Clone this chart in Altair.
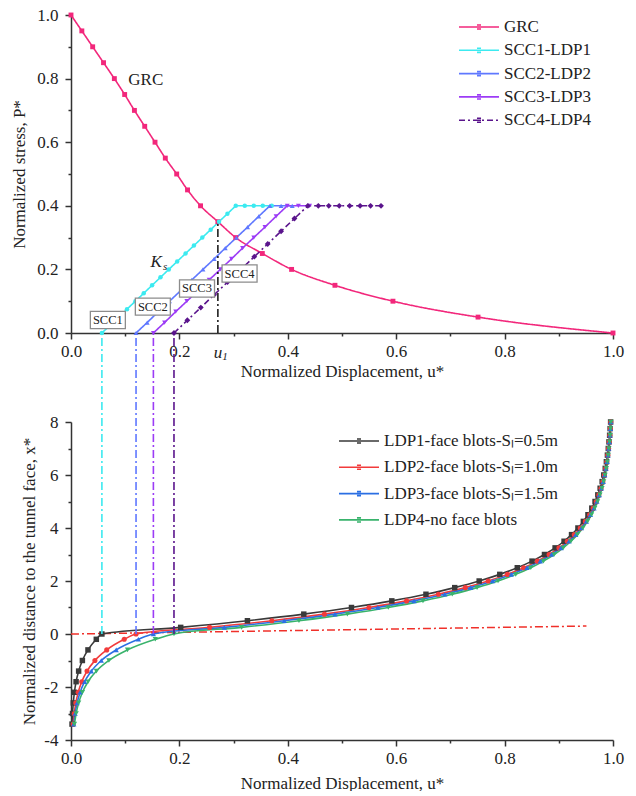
import altair as alt
import pandas as pd

FONT = "'Liberation Serif', 'Times New Roman', serif"
INK = "#222222"

# ---------------- top panel: GRC and support characteristic curves ----------------
top_series = ["GRC", "SCC1-LDP1", "SCC2-LDP2", "SCC3-LDP3", "SCC4-LDP4"]
top_colors = ["#F2277B", "#3CEAF0", "#5F78FF", "#9C3CF6", "#5A148C"]
top_shapes = ["square", "circle", "triangle-up", "triangle-down", "diamond"]
top_sizes = [24, 20, 24, 24, 34]
top_dashes = [[1, 0], [1, 0], [1, 0], [1, 0], [6, 3, 2, 3]]
top_ticks = [0.0, 0.1, 0.2, 0.3, 0.4, 0.5, 0.6, 0.7, 0.8, 0.9, 1.0]

grc_u = [0.0, 0.020, 0.040, 0.060, 0.080, 0.099, 0.117, 0.136, 0.155, 0.174, 0.195,
         0.215, 0.239, 0.271, 0.304, 0.353, 0.407, 0.487, 0.594, 0.751, 1.0]
grc_p = [1.0, 0.95, 0.90, 0.85, 0.80, 0.75, 0.70, 0.65, 0.60, 0.55, 0.50,
         0.45, 0.40, 0.35, 0.30, 0.25, 0.20, 0.15, 0.10, 0.05, 0.0]

scc1_u = [0.057, 0.0724, 0.0879, 0.1033, 0.1188, 0.1342, 0.1496, 0.1651, 0.1805, 0.1959, 0.2114,
          0.2268, 0.2423, 0.2577, 0.2731, 0.2886, 0.3040, 0.3206, 0.3372, 0.3538, 0.3704]
scc1_p = [0.0, 0.025, 0.05, 0.075, 0.1, 0.125, 0.15, 0.175, 0.2, 0.225, 0.25,
          0.275, 0.3, 0.325, 0.35, 0.375, 0.4, 0.4, 0.4, 0.4, 0.4]

scc2_u = [0.120, 0.1406, 0.1612, 0.1817, 0.2023, 0.2229, 0.2435, 0.2641, 0.2846, 0.3052,
          0.3258, 0.3464, 0.3670, 0.3876, 0.4082]
scc2_p = [0.0, 0.033, 0.067, 0.1, 0.133, 0.167, 0.2, 0.233, 0.267, 0.3, 0.333, 0.367, 0.4, 0.4, 0.4]

scc3_u = [0.152, 0.1726, 0.1932, 0.2137, 0.2343, 0.2549, 0.2755, 0.2961, 0.3166, 0.3372,
          0.3578, 0.3784, 0.3990, 0.4196, 0.4402]
scc3_p = [0.0, 0.033, 0.067, 0.1, 0.133, 0.167, 0.2, 0.233, 0.267, 0.3, 0.333, 0.367, 0.4, 0.4, 0.4]

scc4_u = [0.190, 0.2147, 0.2394, 0.2641, 0.2888, 0.3135, 0.3382, 0.3629, 0.3876, 0.4123,
          0.4370, 0.4563, 0.4756, 0.4949, 0.5141, 0.5334, 0.5527, 0.5720]
scc4_p = [0.0, 0.04, 0.08, 0.12, 0.16, 0.2, 0.24, 0.28, 0.32, 0.36, 0.4, 0.4, 0.4, 0.4, 0.4, 0.4, 0.4, 0.4]

u1_u = [0.271]
u1_p = [0.347]

box_labels = ["SCC1", "SCC2", "SCC3", "SCC4"]
box_u = [0.068, 0.151, 0.2325, 0.311]
box_p = [0.041, 0.083, 0.140, 0.187]

# ---------------- bottom panel: longitudinal displacement profiles ----------------
bot_series = ["LDP1-face blots-S\u2097=0.5m", "LDP2-face blots-S\u2097=1.0m",
              "LDP3-face blots-S\u2097=1.5m", "LDP4-no face blots"]
bot_colors = ["#3A3A3A", "#F23B3B", "#2B6FE3", "#39B36C"]
bot_shapes = ["square", "circle", "triangle-up", "triangle-down"]
bot_sizes = [30, 26, 28, 28]
ldp_ticks = [-4, -3, -2, -1, 0, 1, 2, 3, 4, 5, 6, 7, 8]

ldp_x = [-3.4, -3.0, -2.6, -2.2, -1.8, -1.4, -1.0, -0.6, -0.2, 0.0,
         0.25, 0.5, 0.75, 1.0, 1.25, 1.5, 1.75, 2.0, 2.25, 2.5, 2.75, 3.0,
         3.25, 3.5, 3.75, 4.0, 4.25, 4.5, 4.75, 5.0, 5.25, 5.5, 5.75, 6.0,
         6.25, 6.5, 6.75, 7.0, 7.25, 7.5, 7.75, 8.0]
ldp1_u = [0.0019, 0.0028, 0.0042, 0.0063, 0.0094, 0.0141, 0.0210, 0.0313, 0.0467, 0.057,
          0.2024, 0.3255, 0.4295, 0.5175, 0.5919, 0.6549, 0.7080, 0.7531, 0.7911, 0.8234,
          0.8506, 0.8736, 0.8932, 0.9097, 0.9235, 0.9353, 0.9453, 0.9538, 0.9609, 0.9669,
          0.9720, 0.9763, 0.9800, 0.9830, 0.9857, 0.9878, 0.9897, 0.9913, 0.9926, 0.9938,
          0.9947, 0.9956]
ldp2_u = [0.0040, 0.0060, 0.0089, 0.0133, 0.0198, 0.0296, 0.0441, 0.0659, 0.0982, 0.120,
          0.2557, 0.3705, 0.4676, 0.5497, 0.6191, 0.6779, 0.7276, 0.7696, 0.8051, 0.8352,
          0.8606, 0.8821, 0.9003, 0.9157, 0.9286, 0.9396, 0.9490, 0.9569, 0.9635, 0.9691,
          0.9739, 0.9779, 0.9813, 0.9842, 0.9866, 0.9886, 0.9904, 0.9919, 0.9931, 0.9942,
          0.9951, 0.9959]
ldp3_u = [0.0051, 0.0076, 0.0113, 0.0168, 0.0251, 0.0375, 0.0559, 0.0834, 0.1244, 0.152,
          0.2828, 0.3934, 0.4870, 0.5661, 0.6330, 0.6896, 0.7375, 0.7780, 0.8122, 0.8412,
          0.8657, 0.8864, 0.9039, 0.9188, 0.9312, 0.9418, 0.9508, 0.9584, 0.9648, 0.9702,
          0.9748, 0.9787, 0.9820, 0.9847, 0.9871, 0.9891, 0.9908, 0.9922, 0.9934, 0.9944,
          0.9953, 0.9960]
ldp4_u = [0.0063, 0.0095, 0.0141, 0.0211, 0.0314, 0.0469, 0.0699, 0.1043, 0.1556, 0.190,
          0.3149, 0.4206, 0.5099, 0.5855, 0.6494, 0.7035, 0.7492, 0.7879, 0.8206, 0.8483,
          0.8717, 0.8915, 0.9082, 0.9224, 0.9343, 0.9444, 0.9530, 0.9603, 0.9664, 0.9716,
          0.9759, 0.9797, 0.9828, 0.9854, 0.9877, 0.9896, 0.9912, 0.9925, 0.9937, 0.9947,
          0.9955, 0.9962]

face_u = [0.0, 0.951]
face_x = [0.0, 0.30]

link_u = [0.057, 0.120, 0.152, 0.190]
link_colors = ["#3CEAF0", "#5F78FF", "#9C3CF6", "#5A148C"]

# ---------------- layout constants ----------------
W, H = 542, 318
GAP = 89
LINK_TOP = 8 + GAP * 12.0 / H   # top of the gap, in bottom-panel units

LEG_PATH = ("M-2.667,0L2.667,0M-0.27,-0.27L0.27,-0.27M-0.27,0L0.27,0"
            "M-0.27,0.27L0.27,0.27")
BOX_PATH = "M-1,-0.49L1,-0.49L1,0.49L-1,0.49Z"
DASHDOT = [8, 3, 2, 3]


def long_df(names, us, ys):
    rows = []
    for n, u, y in zip(names, us, ys):
        for a, b in zip(u, y):
            rows.append({"series": n, "u": a, "v": b})
    return pd.DataFrame(rows)


top_df = long_df(top_series, [grc_u, scc1_u, scc2_u, scc3_u, scc4_u],
                 [grc_p, scc1_p, scc2_p, scc3_p, scc4_p])
bot_df = long_df(bot_series, [ldp1_u, ldp2_u, ldp3_u, ldp4_u], [ldp_x] * 4)

tenth_major = "round(datum.value * 10) % 2 === 0"
frac_labels = f"{tenth_major} ? format(datum.value, '.1f') : ''"
tick_cond = {"condition": {"test": tenth_major, "value": 6}, "value": 3}
int_major = "datum.value % 2 === 0"
int_labels = f"{int_major} ? '' + datum.value : ''"
int_tick_cond = {"condition": {"test": int_major, "value": 6}, "value": 3}


def frac_axis(title, lp, tp):
    return alt.Axis(values=top_ticks, labelExpr=frac_labels, tickSize=tick_cond,
                    title=title, labelPadding=lp, titlePadding=tp,
                    labelFlush=False, labelOverlap=False)


top_x = alt.X("u:Q", scale=alt.Scale(domain=[0, 1], nice=False, zero=False),
              axis=frac_axis("Normalized Displacement, u*", 4, 4))
top_y = alt.Y("v:Q", scale=alt.Scale(domain=[0, 1], nice=False),
              axis=frac_axis("Normalized stress, P*", 7, 8))

top_legend = alt.Legend(title=None, orient="none", legendX=388, legendY=3.5, padding=0,
                        symbolType=LEG_PATH, symbolSize=225, symbolStrokeWidth=1.6,
                        symbolOffset=11.5, labelOffset=16.5, rowPadding=5.3,
                        labelLimit=400)
top_color = alt.Color("series:N", scale=alt.Scale(domain=top_series, range=top_colors),
                      legend=top_legend)
top_dash = alt.StrokeDash("series:N", scale=alt.Scale(domain=top_series, range=top_dashes),
                          legend=top_legend)

grc_line = alt.Chart(top_df).transform_filter(alt.datum.series == "GRC").mark_line(
    strokeWidth=1.6, interpolate="monotone").encode(x=top_x, y=top_y, color=top_color,
                                                    strokeDash=top_dash)
scc_line = alt.Chart(top_df).transform_filter(alt.datum.series != "GRC").mark_line(
    strokeWidth=1.6).encode(x=top_x, y=top_y, color=top_color, strokeDash=top_dash)

top_points = []
for s, c, sh, sz in zip(top_series, top_colors, top_shapes, top_sizes):
    top_points.append(
        alt.Chart(top_df).transform_filter(alt.datum.series == s).mark_point(
            filled=True, shape=sh, size=sz, color=c, opacity=1).encode(x=top_x, y=top_y))

u1_df = pd.DataFrame({"u": u1_u, "v": [0.0], "v2": u1_p})
u1_rule = alt.Chart(u1_df).mark_rule(color="#111111", strokeWidth=1.5,
                                     strokeDash=DASHDOT).encode(x=top_x, y=top_y, y2="v2:Q")

ann_df = pd.DataFrame({"u": [0.138], "v": [0.796], "t": ["GRC"]})
grc_text = alt.Chart(ann_df).mark_text(font=FONT, fontSize=17, color=INK).encode(
    x=top_x, y=top_y, text="t:N")
ks_df = pd.DataFrame({"u": [0.157], "v": [0.223], "t": ["K"], "s": ["s"]})
ks_text = alt.Chart(ks_df).mark_text(font=FONT, fontSize=17, fontStyle="italic",
                                     color=INK).encode(x=top_x, y=top_y, text="t:N")
ks_sub = alt.Chart(ks_df).mark_text(font=FONT, fontSize=11, fontStyle="italic", dx=9,
                                    dy=5, color=INK).encode(x=top_x, y=top_y, text="s:N")
u1_lab = pd.DataFrame({"u": [0.271], "v": [-0.062], "t": ["u"], "s": ["1"]})
u1_text = alt.Chart(u1_lab).mark_text(font=FONT, fontSize=17, fontStyle="italic",
                                      color=INK).encode(x=top_x, y=top_y, text="t:N")
u1_sub = alt.Chart(u1_lab).mark_text(font=FONT, fontSize=11, fontStyle="italic", dx=7,
                                     dy=4, color=INK).encode(x=top_x, y=top_y, text="s:N")

box_df = pd.DataFrame({"u": box_u, "v": box_p, "t": box_labels})
boxes = alt.Chart(box_df).mark_point(shape=BOX_PATH, size=1225, filled=True, fill="white",
                                     stroke="#8C8C8C", strokeWidth=1.3, opacity=1).encode(
    x=top_x, y=top_y)
box_text = alt.Chart(box_df).mark_text(font=FONT, fontSize=12.5, color=INK).encode(
    x=top_x, y=top_y, text="t:N")

top = alt.layer(grc_line, scc_line, *top_points, u1_rule, grc_text, ks_text, ks_sub,
                u1_text, u1_sub, boxes, box_text).properties(width=W, height=H)

# ---------------- bottom panel ----------------
bot_x = alt.X("u:Q", scale=alt.Scale(domain=[0, 1], nice=False, zero=False),
              axis=frac_axis("Normalized Displacement, u*", 4, 9))
bot_y = alt.Y("v:Q", scale=alt.Scale(domain=[-4, 8], nice=False, zero=False),
              axis=alt.Axis(values=ldp_ticks, labelExpr=int_labels, tickSize=int_tick_cond,
                            title="Normalized distance to the tunnel face, x*",
                            labelPadding=7, titlePadding=5, labelFlush=False,
                            labelOverlap=False))

bot_legend = alt.Legend(title=None, orient="none", legendX=268, legendY=10.5, padding=0,
                        symbolType=LEG_PATH, symbolSize=225, symbolStrokeWidth=1.6,
                        symbolOffset=11.5, labelOffset=16.5, rowPadding=8.3,
                        labelLimit=400)
bot_color = alt.Color("series:N", scale=alt.Scale(domain=bot_series, range=bot_colors),
                      legend=bot_legend)

link_rules = []
for lu, lc in zip(link_u, link_colors):
    ldf = pd.DataFrame({"u": [lu], "v": [0.0], "v2": [LINK_TOP]})
    link_rules.append(alt.Chart(ldf).mark_rule(color=lc, strokeWidth=1.6,
                                               strokeDash=DASHDOT, clip=False).encode(
        x=bot_x, y=bot_y, y2="v2:Q"))

face_df = pd.DataFrame({"u": face_u, "v": face_x})
face_line = alt.Chart(face_df).mark_line(color="#F0302A", strokeWidth=1.5,
                                         strokeDash=[8, 3, 2, 3]).encode(x=bot_x, y=bot_y)

ldp_lines = alt.Chart(bot_df).mark_line(strokeWidth=1.6, interpolate="monotone").encode(
    x=bot_x, y=bot_y, color=bot_color)

bot_points = []
for s, c, sh, sz in zip(bot_series, bot_colors, bot_shapes, bot_sizes):
    bot_points.append(
        alt.Chart(bot_df).transform_filter(alt.datum.series == s).mark_point(
            filled=True, shape=sh, size=sz, color=c, opacity=1).encode(x=bot_x, y=bot_y))

bottom = alt.layer(face_line, ldp_lines, *bot_points, *link_rules).properties(
    width=W, height=H)

chart = alt.vconcat(top, bottom, spacing=GAP, bounds="flush").resolve_scale(
    color="independent", strokeDash="independent"
).properties(
    padding={"left": 10, "top": 6, "right": 5, "bottom": 0}
).configure_view(stroke=None).configure_axis(
    labelFont=FONT, titleFont=FONT, labelFontSize=17, titleFontSize=17,
    labelColor=INK, titleColor=INK, titleFontWeight="normal", grid=False,
    domainColor="#333333", tickColor="#333333", domainWidth=1.5, tickWidth=1.5
).configure_legend(
    labelFont=FONT, labelFontSize=17, labelColor=INK
)

chart.save("out.html", embed_options={"renderer": "svg", "actions": False})
